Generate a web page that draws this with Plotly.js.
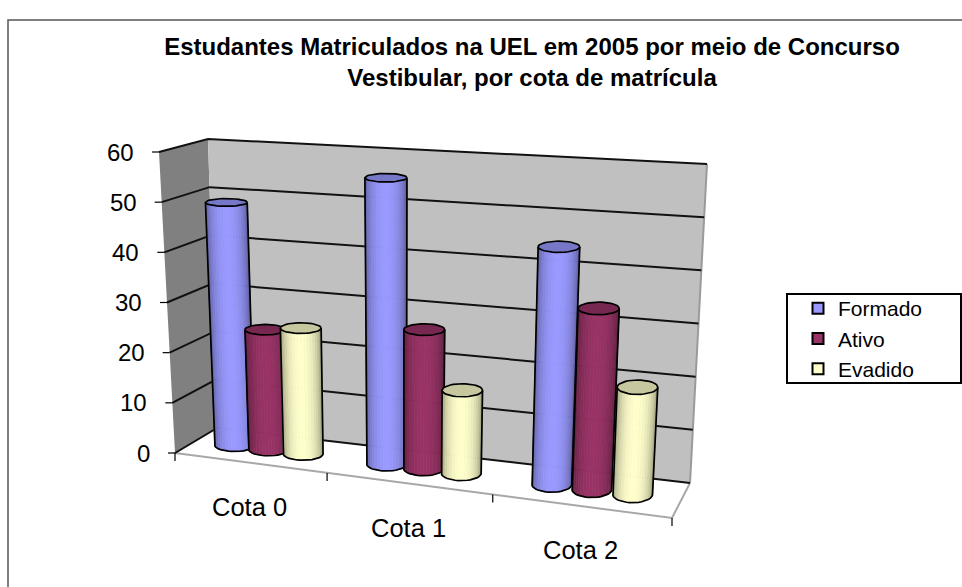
<!DOCTYPE html>
<html>
<head>
<meta charset="utf-8">
<script src="https://cdn.plot.ly/plotly-3.0.1.min.js"></script>
<style>html,body{margin:0;padding:0;background:#fff;overflow:hidden}</style>
</head>
<body>
<div id="chart" style="width:962px;height:587px"></div>
<script>
// ---- data ----
const categories = ["Cota 0", "Cota 1", "Cota 2"];
const formado = [49, 56, 45];
const ativo = [24, 27, 34];
const evadido = [25, 16, 20];
const valueTicks = [0, 10, 20, 30, 40, 50, 60];
const seriesNames = ["Formado", "Ativo", "Evadido"];
const seriesRGB = [[153,153,255],[153,51,102],[255,255,204]];
const chartTitle = "Estudantes Matriculados na UEL em 2005 por meio de Concurso<br>Vestibular, por cota de matrícula";

// ---- 3D box projection (corners of the plotted box, in page pixels) ----
const FLB=[175,453], FRB=[672,518], BLB=[217,428], BRB=[690,483];
const FLT=[159,152], FRT=[690,187], BLT=[208,139], BRT=[707,164];
const maxVal = 60;
const lerp=(a,b,k)=>[a[0]+(b[0]-a[0])*k,a[1]+(b[1]-a[1])*k];
function proj(u,v,val){
  const b=lerp(lerp(FLB,FRB,u),lerp(BLB,BRB,u),v);
  const t=lerp(lerp(FLT,FRT,u),lerp(BLT,BRT,u),v);
  return lerp(b,t,val/maxVal);
}
const catU=t=>t*(0.877+0.123*t);   // foreshortening along the category axis

const traces=[];
function poly(pts,fill,lineColor,lineWidth){
  traces.push({x:pts.map(p=>p&&p[0]),y:pts.map(p=>p&&p[1]),type:"scatter",mode:"lines",
    fill:fill?"toself":"none",fillcolor:fill||undefined,
    line:{color:lineColor||fill||"#000",width:lineWidth===undefined?0:lineWidth},
    hoverinfo:"skip",showlegend:false});
}
// walls and floor
poly([proj(0,0,0),proj(1,0,0),proj(1,1,0),proj(0,1,0),proj(0,0,0)],"#ffffff");
poly([proj(0,0,maxVal),proj(0,1,maxVal),proj(0,1,0),proj(0,0,0),proj(0,0,maxVal)],"#808080");
poly([proj(0,1,maxVal),proj(1,1,maxVal),proj(1,1,0),proj(0,1,0),proj(0,1,maxVal)],"#c0c0c0");
// floor edges
poly([proj(0,1,0),proj(0,0,0),proj(1,0,0),proj(1,1,0)],null,"#a8a8a8",2);
poly([proj(1,1,maxVal),proj(1,1,0)],null,"#9a9a9a",2);
// gridlines
const gridPts=[];
valueTicks.forEach(val=>{
  gridPts.push(proj(0,0,val),proj(0,1,val),proj(1,1,val),null);
});
poly(gridPts,null,"#111111",2);
// axis ticks
const tickPts=[];
valueTicks.forEach(val=>{const p=proj(0,0,val);tickPts.push([p[0]-7,p[1]],p,null);});
[0,1,2,3].forEach(i=>{const p=proj(catU(i/categories.length),0,0);tickPts.push(p,[p[0],p[1]+8],null);});
poly(tickPts,null,"#000",1.2);

// cylinders
const STRIPS=20, ru=0.041, rv=0.24, barStep=0.077;
const scale=(rgb,f)=>"rgb("+rgb.map(c=>Math.round(c*f)).join(",")+")";
[formado,ativo,evadido].forEach((vals,s)=>{
  const centre=vals.map((_,c)=>catU((c+0.5)/categories.length+(s-1)*barStep));
  const ring=(u,val,th)=>{
    const pu=proj(u+ru*Math.cos(th),0.5,val), pv=proj(u,0.5+rv*Math.sin(th),val);
    return [pu[0],pv[1]];
  };
  for(let k=0;k<STRIPS;k++){
    const a=Math.PI+Math.PI*k/STRIPS, b=Math.PI+Math.PI*(k+1)/STRIPS;
    const sx=Math.cos((a+b)/2);
    const f=0.52+0.48*Math.pow(1-sx*sx,0.55);
    const pts=[];
    vals.forEach((val,c)=>{
      const u=centre[c];
      pts.push(ring(u,0,a),ring(u,0,b),ring(u,val,b),ring(u,val,a),ring(u,0,a),null);
    });
    poly(pts,scale(seriesRGB[s],f),scale(seriesRGB[s],f),0.7);
  }
  const caps=[], outline=[];
  vals.forEach((val,c)=>{
    const u=centre[c];
    const loop=[],front=[];
    for(let k=0;k<=40;k++){loop.push(ring(u,val,2*Math.PI*k/40));}
    for(let k=0;k<=20;k++){front.push(ring(u,0,Math.PI+Math.PI*k/20));}
    caps.push(...loop,null);
    outline.push(...loop,null,ring(u,val,Math.PI),...front,ring(u,val,2*Math.PI),null);
  });
  poly(caps,scale(seriesRGB[s],0.78));
  poly(outline,null,"#000",1.7);
});

// legend entries
seriesNames.forEach((n,s)=>{
  traces.push({x:[null],y:[null],type:"scatter",mode:"markers",name:n,showlegend:true,
    marker:{symbol:"square",size:11,color:scale(seriesRGB[s],1),line:{color:"#000",width:2}},hoverinfo:"skip"});
});

// tick labels as text
const annotations=[];
valueTicks.forEach(val=>{
  const p=proj(0,0,val);
  annotations.push({x:p[0],y:p[1],xref:"x",yref:"y",text:String(val),showarrow:false,
    xanchor:"right",yanchor:"middle",xshift:-23,font:{family:"Liberation Sans",size:24,color:"#000"}});
});
categories.forEach((cat,i)=>{
  const p=proj(catU((i+0.5)/categories.length),0,0);
  annotations.push({x:p[0],y:p[1],xref:"x",yref:"y",text:cat,showarrow:false,
    xanchor:"center",yanchor:"middle",yshift:-44,font:{family:"Liberation Sans",size:25.5,color:"#000"}});
});

const layout={
  width:962,height:587,margin:{l:0,r:0,t:0,b:0},paper_bgcolor:"#fff",plot_bgcolor:"#fff",
  hovermode:false,
  title:{text:chartTitle,x:532/962,xanchor:"center",y:1-55/587,yanchor:"top",
    font:{family:"Liberation Sans",size:24,color:"#000",weight:700}},
  xaxis:{range:[0,962],visible:false,fixedrange:true},
  yaxis:{range:[587,0],visible:false,fixedrange:true},
  shapes:[
    {type:"path",path:"M 8 587 L 8 20 L 962 20",xref:"x",yref:"y",line:{color:"#555",width:1.5},layer:"below"},
    {type:"rect",x0:787,x1:961,y0:294,y1:383,xref:"x",yref:"y",line:{color:"#000",width:2},fillcolor:"#fff",layer:"above"}
  ],
  legend:{x:798/962,y:1-288/587,xanchor:"left",yanchor:"top",bgcolor:"rgba(0,0,0,0)",borderwidth:0,
    font:{family:"Liberation Sans",size:21,color:"#000"},itemclick:false,itemdoubleclick:false},
  annotations
};
Plotly.newPlot("chart",traces,layout,{displayModeBar:false,staticPlot:true});
</script>
</body>
</html>
